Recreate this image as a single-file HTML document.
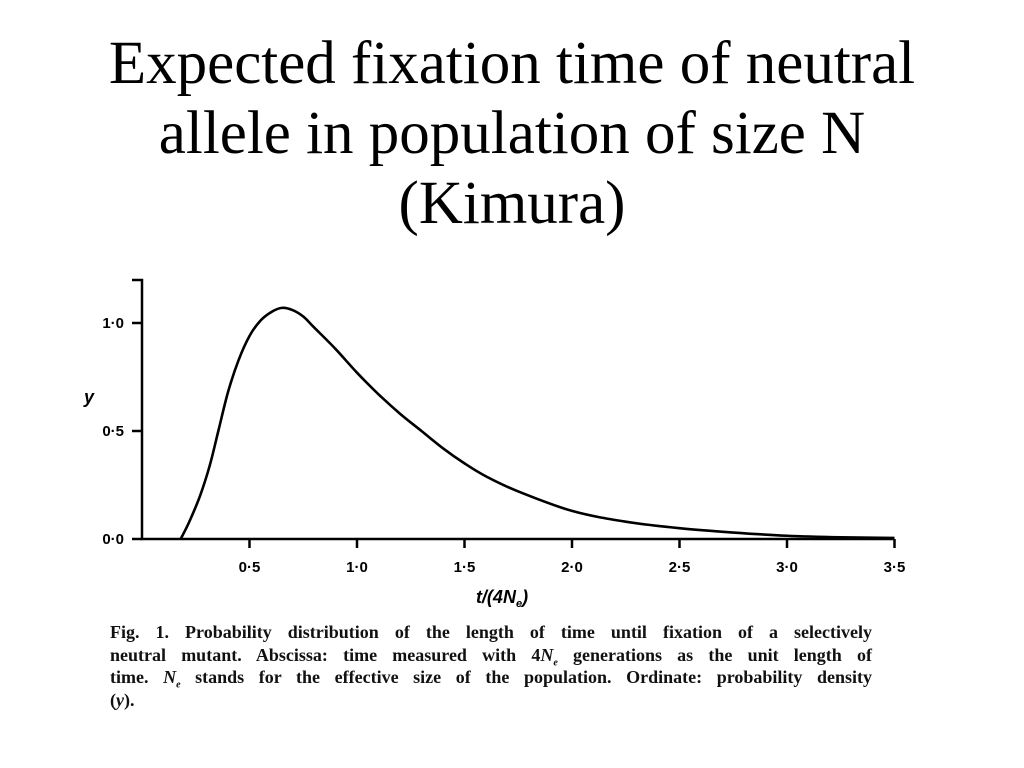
<!DOCTYPE html>
<html><head><meta charset="utf-8"><style>
body{margin:0;width:1024px;height:768px;background:#fff;overflow:hidden;position:relative}
#title{position:absolute;left:0;top:29px;width:1024px;text-align:center;font-family:"Liberation Serif",serif;font-size:61px;line-height:70px;color:#000}
#caption{position:absolute;left:110px;top:621px;width:762px;font-family:"Liberation Serif",serif;font-size:18px;line-height:22.5px;color:#111;font-weight:bold}
#caption div{text-align:justify;text-align-last:justify;white-space:nowrap;height:22.5px}
#caption div.last{text-align-last:left}
svg{position:absolute;left:0;top:0}
</style></head><body>
<div id="title">Expected fixation time of neutral<br>allele in population of size N<br>(Kimura)</div>
<svg id="chart" width="1024" height="768"></svg>
<div id="caption">
<div>Fig. 1. Probability distribution of the length of time until fixation of a selectively</div>
<div>neutral mutant. Abscissa: time measured with 4<i>N<sub style="font-size:10px">e</sub></i> generations as the unit length of</div>
<div>time. <i>N<sub style="font-size:10px">e</sub></i> stands for the effective size of the population. Ordinate: probability density</div>
<div class="last">(<i>y</i>).</div>
</div>
<script>
const tValues=[0.18,0.22,0.27,0.315,0.355,0.4,0.45,0.5,0.55,0.6,0.65,0.7,0.75,0.8,0.9,1.0,1.1,1.2,1.3,1.4,1.5,1.6,1.75,2.0,2.25,2.5,2.75,3.0,3.25,3.5];
const yValues=[0,0.08,0.2,0.34,0.5,0.68,0.83,0.94,1.01,1.05,1.07,1.06,1.03,0.98,0.88,0.77,0.67,0.58,0.5,0.42,0.35,0.29,0.22,0.13,0.08,0.05,0.03,0.015,0.008,0.005];
const xTicks=[0.5,1.0,1.5,2.0,2.5,3.0,3.5];
const xTickLabels=["0·5","1·0","1·5","2·0","2·5","3·0","3·5"];
const yTicks=[0,0.5,1.0];
const yTickLabels=["0·0","0·5","1·0"];
const NS="http://www.w3.org/2000/svg";
const svg=document.getElementById('chart');
const x0=142,xs=215,y0=539,ys=216;
const X=t=>x0+t*xs, Y=v=>y0-v*ys;
function mk(tag,attrs){const e=document.createElementNS(NS,tag);for(const k in attrs)e.setAttribute(k,attrs[k]);svg.appendChild(e);return e;}
const ax=mk('path',{d:`M132 280 H${x0} V${y0} H${X(3.5)}`,fill:'none',stroke:'#000','stroke-width':2.5});


xTicks.forEach((t,i)=>{
 const l=mk('line',{x1:X(t),x2:X(t),y1:y0,y2:y0+9,stroke:'#000','stroke-width':2.5});
 
 
 const tx=mk('text',{x:X(t),y:572,'text-anchor':'middle','font-family':'Liberation Sans,sans-serif','font-size':15,'font-weight':'bold'});
 tx.textContent=xTickLabels[i];
 
 
});
yTicks.forEach((v,i)=>{
 const l=mk('line',{x1:x0-10,x2:x0,y1:Y(v),y2:Y(v),stroke:'#000','stroke-width':2.5});
 
 
 const tx=mk('text',{x:124,y:Y(v)+5,'text-anchor':'end','font-family':'Liberation Sans,sans-serif','font-size':15,'font-weight':'bold'});
 tx.textContent=yTickLabels[i];
 
 
});
const yl=mk('text',{x:84,y:403,'font-family':'Liberation Sans,sans-serif','font-size':18,'font-weight':'bold','font-style':'italic'});
yl.textContent='y';


const xl=mk('text',{x:502,y:603,'text-anchor':'middle','font-family':'Liberation Sans,sans-serif','font-size':18,'font-weight':'bold','font-style':'italic'});
xl.innerHTML='t/(4N<tspan font-size="11" dy="4">e</tspan><tspan dy="-4">)</tspan>';


const p=tValues.map((t,i)=>[X(t),Y(yValues[i])]);
let d=`M${p[0][0]} ${p[0][1]}`;
for(let i=0;i<p.length-1;i++){
 const a=p[Math.max(i-1,0)],b=p[i],c=p[i+1],e=p[Math.min(i+2,p.length-1)];
 d+=` C${b[0]+(c[0]-a[0])/6} ${b[1]+(c[1]-a[1])/6} ${c[0]-(e[0]-b[0])/6} ${c[1]-(e[1]-b[1])/6} ${c[0]} ${c[1]}`;
}
const cv=mk('path',{d:d,fill:'none',stroke:'#000','stroke-width':2.6});


</script>
</body></html>
